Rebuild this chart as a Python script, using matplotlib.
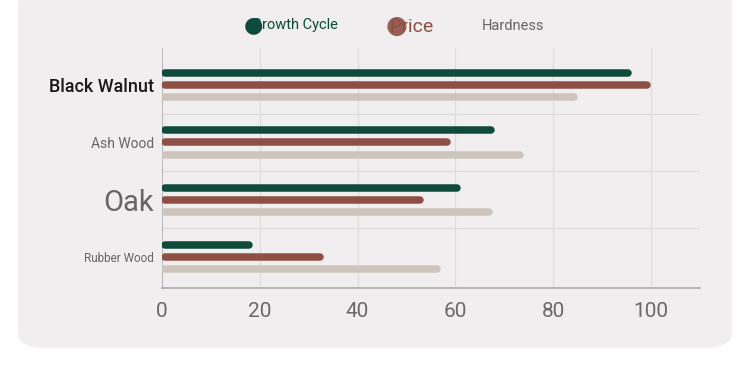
import numpy as np
import matplotlib.pyplot as plt
from matplotlib.patches import FancyBboxPatch

plt.rcParams['font.family'] = ['Roboto', 'DejaVu Sans']

woods = ["Black Walnut", "Ash Wood", "Oak", "Rubber Wood"]
growth = [96, 68, 61, 18.5]
price = [100, 59, 53.5, 33]
hardness = [85, 74, 67.5, 57]

label_sizes = [13, 10, 21, 8.5]
label_colors = ["#1a1a1a", "#666666", "#666666", "#666666"]

green = "#0f4a3a"
brown = "#8e5045"
beige = "#cdc5bc"

fig = plt.figure(figsize=(7.5, 3.72), dpi=100)
fig.patch.set_facecolor("white")

# card background
card = FancyBboxPatch((18 / 750, 24 / 372), 714 / 750, 360 / 372,
                      boxstyle="round,pad=0,rounding_size=0.04",
                      transform=fig.transFigure, facecolor="#f0eeee",
                      edgecolor="none", zorder=-5)
fig.patches.append(card)

ax = fig.add_axes([0.216, 0.226, 0.717, 0.645])
ax.set_facecolor("none")
ax.set_zorder(2)

y = np.arange(len(woods))
off = 0.21
for vals, col, d in [(growth, green, -off), (price, brown, 0), (hardness, beige, off)]:
    for yi, v in zip(y, vals):
        ax.plot([0.7, v - 0.7], [yi + d, yi + d], color=col, lw=5.4,
                solid_capstyle="round", zorder=3)

ax.set_xlim(0, 110)
ax.set_ylim(3.54, -0.65)
ax.set_xticks([0, 20, 40, 60, 80, 100])
ax.tick_params(axis="x", length=0, labelsize=15, labelcolor="#6a6a6a", pad=10)
ax.set_yticks(y)
ax.set_yticklabels(woods)
ax.tick_params(axis="y", length=0, pad=6)
for lab, s, c in zip(ax.get_yticklabels(), label_sizes, label_colors):
    lab.set_fontsize(s)
    lab.set_color(c)
    if s == 13:
        lab.set_fontweight("medium")

for xv in [20, 40, 60, 80, 100]:
    ax.axvline(xv, color="#dddada", lw=0.8, zorder=1)
for yv in [0.5, 1.5, 2.5]:
    ax.axhline(yv, color="#dddada", lw=0.8, zorder=1)

for s in ["top", "right"]:
    ax.spines[s].set_visible(False)
ax.spines["left"].set_color("#bbbbbb")
ax.spines["bottom"].set_color("#aaaaaa")
ax.spines["bottom"].set_linewidth(1.2)

# legend
fig.text(253 / 750, 1 - 26 / 372, "\u25cf", color=green, fontsize=16, ha="center", va="center")
fig.text(252 / 750, 1 - 25 / 372, "Growth Cycle", color=green, fontsize=10.5, ha="left", va="center")
fig.text(397 / 750, 1 - 26 / 372, "\u25cf", color=brown, fontsize=18, ha="center", va="center", alpha=0.9)
fig.text(389 / 750, 1 - 27 / 372, "Price", color=brown, fontsize=14, ha="left", va="center")
fig.text(482 / 750, 1 - 26 / 372, "Hardness", color="#666666", fontsize=10.5, ha="left", va="center")

fig.savefig("out.png", dpi=100, facecolor="white")
